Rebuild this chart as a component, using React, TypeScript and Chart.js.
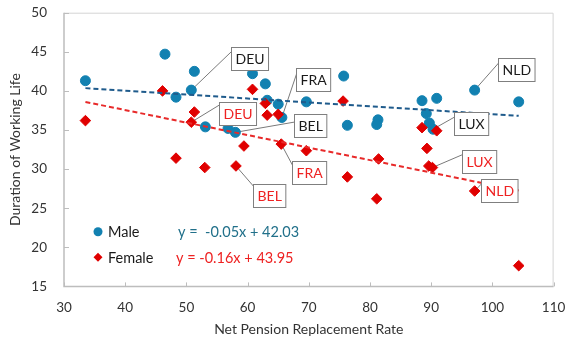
import React, { useEffect, useRef } from 'react';
import { Chart, registerables } from 'chart.js';

Chart.register(...registerables);

// ---- data ----
const maleX = [33.5, 46.5, 48.3, 50.8, 51.3, 53.1, 56.8, 58.0, 60.8, 62.9, 63.2, 65.0, 65.6, 69.6, 75.7, 76.3, 81.3, 81.1, 88.5, 89.2, 89.7, 90.3, 90.9, 97.1, 104.3];
const maleY = [41.3, 44.7, 39.2, 40.1, 42.5, 35.4, 35.2, 34.7, 42.2, 40.9, 38.8, 38.3, 36.6, 38.6, 41.9, 35.6, 36.3, 35.7, 38.75, 37.1, 35.9, 35.1, 39.05, 40.1, 38.6];

const femaleX = [33.5, 46.1, 48.3, 50.8, 51.3, 53.0, 58.1, 59.4, 60.8, 62.9, 63.2, 65.0, 65.5, 69.6, 75.6, 76.3, 81.1, 81.4, 88.5, 89.3, 89.6, 90.2, 90.9, 97.1, 104.3];
const femaleY = [36.2, 40.0, 31.4, 36.0, 37.3, 30.2, 30.4, 32.95, 40.2, 38.4, 36.9, 37.0, 33.2, 32.35, 38.7, 29.0, 26.2, 31.3, 35.3, 32.65, 30.4, 30.2, 34.9, 27.2, 17.65];

// trend line coefficients as printed on the chart
const maleTrend = { slope: -0.05, intercept: 42.03 };
const femaleTrend = { slope: -0.16, intercept: 43.95 };

const seriesNames = ['Male', 'Female'];
const equationTexts = ['y =  -0.05x + 42.03', 'y = -0.16x + 43.95'];

const xTicks = [30, 40, 50, 60, 70, 80, 90, 100, 110];
const yTicks = [15, 20, 25, 30, 35, 40, 45, 50];

const countryLabels = [
  { text: 'DEU', series: 0, index: 3 },
  { text: 'BEL', series: 0, index: 7 },
  { text: 'FRA', series: 0, index: 12 },
  { text: 'LUX', series: 0, index: 21 },
  { text: 'NLD', series: 0, index: 23 },
  { text: 'DEU', series: 1, index: 3 },
  { text: 'BEL', series: 1, index: 6 },
  { text: 'FRA', series: 1, index: 12 },
  { text: 'LUX', series: 1, index: 21 },
  { text: 'NLD', series: 1, index: 23 },
];

// ---- styling / layout (not data) ----
const BLUE = '#1281b1';
const RED = '#e00000';
const BLUE_TREND = '#1f5b8c';
const RED_TREND = '#e82a2a';
const BLUE_TEXT = '#21708a';
const RED_TEXT = '#ee2222';
const FONT = 'Lato, "Open Sans", sans-serif';

// label box centre offset & leader end offset (px, relative to the point)
const labelLayout: Record<string, { box: [number, number]; lead: [number, number] }> = {
  '0-DEU': { box: [58.2, -32.1], lead: [41.7, -40] },
  '0-FRA': { box: [31.1, -38.4], lead: [15.6, -46.3] },
  '0-BEL': { box: [75.2, -6.4], lead: [61, -10.6] },
  '0-NLD': { box: [42, -20.5], lead: [25, -28.3] },
  '0-LUX': { box: [38.2, -5.4], lead: [22.3, -12.6] },
  '1-DEU': { box: [45.8, -8.6], lead: [28.3, -17.3] },
  '1-FRA': { box: [27.5, 28.9], lead: [11.7, 22] },
  '1-BEL': { box: [33.5, 29.3], lead: [19.3, 22.3] },
  '1-LUX': { box: [46.9, -6.1], lead: [31, -13.3] },
  '1-NLD': { box: [24.6, 0], lead: [7.4, -7.7] },
};

function trendPoints(xs: number[], t: { slope: number; intercept: number }) {
  const lo = Math.min(...xs);
  const hi = Math.max(...xs);
  return [
    { x: lo, y: t.slope * lo + t.intercept },
    { x: hi, y: t.slope * hi + t.intercept },
  ];
}

const framePlugin = {
  id: 'frame',
  beforeDatasetsDraw(chart: any) {
    const { ctx, chartArea: a, scales } = chart;
    ctx.save();
    // top & right border
    ctx.strokeStyle = '#d4d4d4';
    ctx.lineWidth = 1;
    ctx.beginPath();
    ctx.moveTo(a.left, a.top + 0.5);
    ctx.lineTo(a.right - 0.5, a.top + 0.5);
    ctx.lineTo(a.right - 0.5, a.bottom);
    ctx.stroke();
    // axes
    ctx.strokeStyle = '#bdbdbd';
    ctx.lineWidth = 1.5;
    ctx.beginPath();
    ctx.moveTo(a.left, a.top);
    ctx.lineTo(a.left, a.bottom);
    ctx.lineTo(a.right, a.bottom);
    ctx.stroke();
    // inside ticks
    ctx.lineWidth = 1;
    ctx.beginPath();
    for (const v of yTicks) {
      const y = Math.round(scales.y.getPixelForValue(v)) + 0.5;
      ctx.moveTo(a.left, y);
      ctx.lineTo(a.left + 5, y);
    }
    for (const v of xTicks) {
      const x = Math.round(scales.x.getPixelForValue(v)) + 0.5;
      ctx.moveTo(x, a.bottom);
      ctx.lineTo(x, a.bottom - 4);
    }
    ctx.stroke();

    // leader lines (under markers)
    ctx.strokeStyle = '#7a7a7a';
    ctx.lineWidth = 1;
    for (const l of countryLabels) {
      const xs = l.series === 0 ? maleX : femaleX;
      const ys = l.series === 0 ? maleY : femaleY;
      const px = scales.x.getPixelForValue(xs[l.index]);
      const py = scales.y.getPixelForValue(ys[l.index]);
      const lay = labelLayout[`${l.series}-${l.text}`];
      ctx.beginPath();
      ctx.moveTo(px, py);
      ctx.lineTo(px + lay.lead[0], py + lay.lead[1]);
      ctx.stroke();
    }
    ctx.restore();
  },
  afterDatasetsDraw(chart: any) {
    const { ctx, scales } = chart;
    ctx.save();
    ctx.font = `14px ${FONT}`;
    ctx.textAlign = 'center';
    ctx.textBaseline = 'middle';
    for (const l of countryLabels) {
      const xs = l.series === 0 ? maleX : femaleX;
      const ys = l.series === 0 ? maleY : femaleY;
      const px = scales.x.getPixelForValue(xs[l.index]);
      const py = scales.y.getPixelForValue(ys[l.index]);
      const lay = labelLayout[`${l.series}-${l.text}`];
      const cx = px + lay.box[0];
      const cy = py + lay.box[1];
      const w = ctx.measureText(l.text).width + 8;
      const h = 23;
      const bx = Math.round(cx - w / 2) + 0.5;
      const by = Math.round(cy - h / 2) + 0.5;
      ctx.fillStyle = '#ffffff';
      ctx.fillRect(bx, by, w, h);
      ctx.strokeStyle = '#7f7f7f';
      ctx.lineWidth = 1;
      ctx.strokeRect(bx, by, w, h);
      ctx.fillStyle = l.series === 0 ? '#1a1a1a' : RED_TEXT;
      ctx.fillText(l.text, bx + w / 2, by + h / 2 + 0.5);
    }

    // legend + equations
    const a = chart.chartArea;
    const rows = [a.top + 219, a.top + 244.5];
    ctx.textAlign = 'left';
    ctx.font = `14.5px ${FONT}`;
    for (let i = 0; i < 2; i++) {
      const y = rows[i];
      const mx = a.left + 34;
      ctx.fillStyle = i === 0 ? BLUE : RED;
      ctx.beginPath();
      if (i === 0) {
        ctx.arc(mx, y, 4.5, 0, Math.PI * 2);
      } else {
        ctx.moveTo(mx - 4.5, y);
        ctx.lineTo(mx, y - 4.5);
        ctx.lineTo(mx + 4.5, y);
        ctx.lineTo(mx, y + 4.5);
        ctx.closePath();
      }
      ctx.fill();
      ctx.fillStyle = '#1a1a1a';
      ctx.fillText(seriesNames[i], a.left + 44, y + 1);
      ctx.fillStyle = i === 0 ? BLUE_TEXT : RED_TEXT;
      ctx.fillText(equationTexts[i], a.left + (i === 0 ? 114 : 112), y + 1);
    }
    ctx.restore();
  },
};

export default function App() {
  const ref = useRef<HTMLCanvasElement | null>(null);

  useEffect(() => {
    if (!ref.current) return;
    const chart = new Chart(ref.current, {
      type: 'scatter',
      data: {
        datasets: [
          {
            label: 'Male',
            data: maleX.map((x, i) => ({ x, y: maleY[i] })),
            pointStyle: 'circle',
            pointRadius: 5,
            backgroundColor: BLUE,
            borderColor: BLUE,
            borderWidth: 1,
            order: 2,
          },
          {
            label: 'Female',
            data: femaleX.map((x, i) => ({ x, y: femaleY[i] })),
            pointStyle: 'rectRot',
            pointRadius: 5.3,
            backgroundColor: RED,
            borderColor: RED,
            borderWidth: 1,
            order: 1,
          },
          {
            type: 'line',
            label: 'Male trend',
            data: trendPoints(maleX, maleTrend),
            borderColor: BLUE_TREND,
            borderWidth: 2,
            borderDash: [5, 3],
            pointRadius: 0,
            fill: false,
            order: 0,
          } as any,
          {
            type: 'line',
            label: 'Female trend',
            data: trendPoints(femaleX, femaleTrend),
            borderColor: RED_TREND,
            borderWidth: 2,
            borderDash: [5, 3],
            pointRadius: 0,
            fill: false,
            order: 0,
          } as any,
        ],
      },
      options: {
        responsive: false,
        maintainAspectRatio: false,
        animation: false,
        layout: { padding: { left: 0, top: 12.7, right: 13.4, bottom: 0 } },
        plugins: { legend: { display: false }, tooltip: { enabled: false } },
        scales: {
          x: {
            type: 'linear',
            min: 30,
            max: 110,
            afterBuildTicks: (s: any) => {
              s.ticks = xTicks.map((v) => ({ value: v }));
            },
            ticks: { padding: 13, color: '#333333', font: { family: FONT, size: 13.5 } },
            grid: { display: false, drawTicks: false },
            border: { display: false },
            title: {
              display: true,
              text: 'Net Pension Replacement Rate',
              color: '#333333',
              font: { family: FONT, size: 14 },
              padding: { top: 0, bottom: 3.1 },
            },
            afterFit: (s: any) => {
              s.height = 341 - 286.4;
              s.paddingLeft = 0;
              s.paddingRight = 0;
            },
          },
          y: {
            type: 'linear',
            min: 15,
            max: 50,
            afterBuildTicks: (s: any) => {
              s.ticks = yTicks.map((v) => ({ value: v }));
            },
            ticks: { padding: 17, color: '#333333', font: { family: FONT, size: 13.5 } },
            grid: { display: false, drawTicks: false },
            border: { display: false },
            title: {
              display: true,
              text: 'Duration of Working Life',
              color: '#333333',
              font: { family: FONT, size: 14 },
              padding: { top: 6.6, bottom: 0 },
            },
            afterFit: (s: any) => {
              s.width = 64;
              s.paddingTop = 0;
              s.paddingBottom = 0;
            },
          },
        },
      },
      plugins: [framePlugin],
    });
    return () => chart.destroy();
  }, []);

  return (
    <div style={{ position: 'fixed', left: 0, top: 0, width: 567, height: 341, background: '#fff' }}>
      <canvas ref={ref} width={567} height={341} style={{ width: 567, height: 341, display: 'block' }} />
    </div>
  );
}
